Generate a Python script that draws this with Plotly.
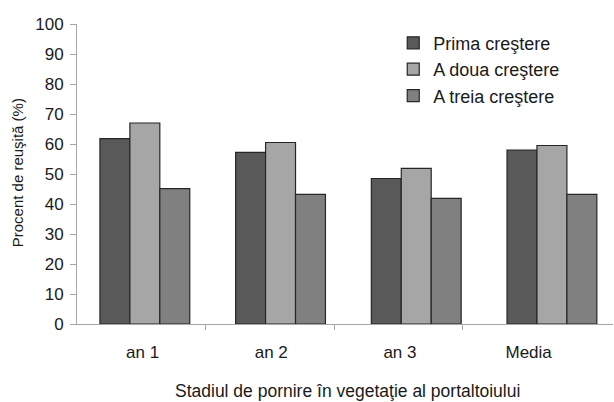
import plotly.graph_objects as go

categories = ["an 1", "an 2", "an 3", "Media"]
series_names = ["Prima creştere", "A doua creştere", "A treia creştere"]
prima = [61.8, 57.2, 48.5, 58.0]
doua = [67.0, 60.5, 51.9, 59.5]
treia = [45.1, 43.2, 41.9, 43.2]
y_ticks = [0, 10, 20, 30, 40, 50, 60, 70, 80, 90, 100]
x_title = "Stadiul de pornire în vegetaţie al portaltoiului"
y_title = "Procent de reuşită (%)"

colors = ["#595959", "#a6a6a6", "#808080"]
idx = list(range(len(categories)))

fig = go.Figure()
for k, (name, vals, col) in enumerate(zip(series_names, [prima, doua, treia], colors)):
    fig.add_trace(go.Bar(
        x=idx, y=vals, name=name,
        marker=dict(color=col, line=dict(color="#262626", width=1.2)),
    ))

# label / separator positions (original chart has labels slightly offset from bars)
label_pos = [i * 0.9485 - 0.017 for i in idx]
sep_pos = [i * 0.9485 - 0.502 for i in idx]

fig.update_layout(
    width=614, height=402,
    margin=dict(l=77, r=1, t=24, b=78),
    paper_bgcolor="white", plot_bgcolor="white",
    barmode="group", bargap=0.338, bargroupgap=0,
    font=dict(family="Liberation Sans, Arial, sans-serif", size=17, color="#1a1a1a"),
    showlegend=True,
    legend=dict(x=0.59, y=0.998, xanchor="left", yanchor="top",
                bgcolor="rgba(0,0,0,0)", font=dict(size=18),
                itemwidth=30, tracegroupgap=0),
    xaxis=dict(
        range=[-0.5, 3.45], showgrid=False, zeroline=False, automargin=False,
        showline=True, linecolor="#a6a6a6", linewidth=1,
        tickmode="array", tickvals=label_pos, ticktext=categories,
        ticks="", ticklabelstandoff=13, tickfont=dict(size=17),
        minor=dict(tickmode="array", tickvals=sep_pos, ticks="outside",
                   ticklen=5, tickcolor="#a6a6a6", showgrid=False),
    ),
    yaxis=dict(
        range=[0, 100], showgrid=False, zeroline=False, automargin=False,
        showline=True, linecolor="#a6a6a6", linewidth=1,
        tickmode="array", tickvals=y_ticks,
        ticks="outside", ticklen=6, tickcolor="#a6a6a6",
        tickfont=dict(size=17), ticklabelstandoff=3,
    ),
    annotations=[
        dict(text=y_title, xref="paper", yref="paper", x=-0.111, y=0.504,
             xanchor="center", yanchor="middle", textangle=-90,
             showarrow=False, font=dict(size=15)),
        dict(text=x_title, xref="paper", yref="paper", x=0.504, y=-0.222,
             xanchor="center", yanchor="middle",
             showarrow=False, font=dict(size=17.5)),
    ],
)

fig.write_html("out.html", config={"displayModeBar": False},
               post_script="document.body.style.margin='0';")
